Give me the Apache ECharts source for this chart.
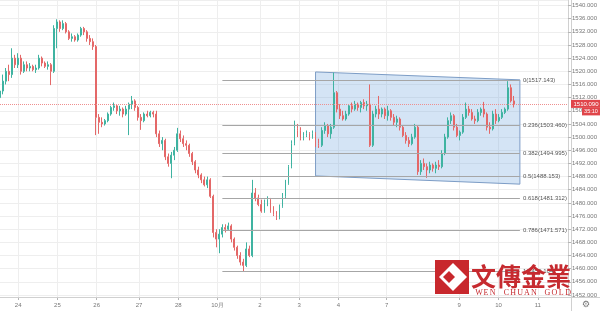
<!DOCTYPE html>
<html><head><meta charset="utf-8">
<script src="https://cdn.jsdelivr.net/npm/echarts@6/dist/echarts.min.js"></script>
<style>html,body{margin:0;padding:0;background:#fff}#c{width:600px;height:311px}</style>
</head><body><div id="c"></div>
<script>
// ---- data ----
const categoryCount = 190;
const dayIndex = [6,19,32,46,59,72,86,99,112,128,152,165,178];
const dayLabels = ['24','25','26','27','28','10月','2','3','4','7','9','10','11'];

const open = [1512,1514,1517,1520,1519,1524,1522,1524,1520,1522,1521,1521.5,1520.5,1521,1524,1522.5,1521.5,1522,1520,1533,
1535,1533,1534.5,1532,1530,1530.5,1529.5,1531,1533,1532,1530,1529,1527.5,1506,1504.5,1504,1505,1507,1509,1509.5,
1508,1508.5,1507,1508.5,1510,1511,1509,1506,1505,1507,1506.5,1507.5,1507,1501,1498,1499,1494,1492,1494.5,1496,
1501,1499.5,1498,1497.5,1495,1492.5,1490,1488.5,1487,1485.5,1487,1482,1471,1469,1470.5,1472.5,1472,1473,1469,1466.5,
1464,1462,1461,1466,1464,1483,1481.5,1479.5,1477.5,1480,1481,1477.5,1476.5,1475.5,1479,1482,1486,1491,1498,1502.5,
1502,1499.5,1500.5,1501,1500,1501,1498,1497.5,1502,1503.5,1501,1503,1513.5,1508.5,1506.5,1505.5,1507,1509.5,1508.5,1510,
1509,1510.5,1509.5,1510,1497.5,1507,1508.5,1507,1508.5,1506.5,1508,1506,1504.5,1505.5,1503,1500.5,1499,1498,1500,1503,
1489.5,1492,1491,1490,1491.5,1490.5,1491.5,1491,1495,1500,1505,1506.5,1503,1500.5,1501.5,1506,1508.5,1507.5,1505.5,1505,
1507.5,1508.5,1507,1503,1502.5,1507,1505,1506,1507.5,1508.5,1515,1511];
const close = [1514,1517,1520,1519,1524,1522,1524,1520,1522,1521,1521.5,1520.5,1521,1524,1522.5,1521.5,1522,1520,1533,1535,
1533,1534.5,1532,1530,1530.5,1529.5,1531,1533,1532,1530,1529,1527.5,1506,1504.5,1504,1505,1507,1509,1509.5,1508,
1508.5,1507,1508.5,1510,1511,1509,1506,1505,1507,1506.5,1507.5,1507,1501,1498,1499,1494,1492,1494.5,1496,1501,
1499.5,1498,1497.5,1495,1492.5,1490,1488.5,1487,1485.5,1487,1482,1471,1469,1470.5,1472.5,1472,1473,1469,1466.5,1464,
1462,1461,1466,1464,1483,1481.5,1479.5,1477.5,1480,1481,1477.5,1476.5,1475.5,1479,1482,1486,1491,1498,1502.5,1502,
1499.5,1500.5,1501,1500,1501,1498,1497.5,1502,1503.5,1501,1503,1513.5,1508.5,1506.5,1505.5,1507,1509.5,1508.5,1510,1509,
1510.5,1509.5,1510,1497.5,1507,1508.5,1507,1508.5,1506.5,1508,1506,1504.5,1505.5,1503,1500.5,1499,1498,1500,1503,1489.5,
1492,1491,1490,1491.5,1490.5,1491.5,1491,1495,1500,1505,1506.5,1503,1500.5,1501.5,1506,1508.5,1507.5,1505.5,1505,1507.5,
1508.5,1507,1503,1502.5,1507,1505,1506,1507.5,1508.5,1515,1511,1510.09];
const low = [1510,1513,1516,1517,1518,1521,1521,1519,1519.5,1520,1520,1520,1519.5,1520.5,1521.5,1521,1520.5,1515.8,1519.5,1527,
1532,1532.5,1531.5,1529.5,1529,1529,1529,1530.5,1531,1529,1528,1526.5,1500.6,1501,1503,1503.5,1504.5,1506.5,1508,1507,
1506.5,1506,1506.5,1500.6,1508.5,1508,1505,1502.2,1504.5,1506,1506,1506,1500,1497,1496,1493,1491,1487.5,1493,1495.5,
1498.5,1497,1496,1494,1491.5,1489,1487.5,1486,1485,1484.5,1481.5,1469.5,1466.5,1464.7,1469.5,1471,1471.5,1468,1465.5,1463,
1461,1459,1460.5,1463.5,1463.5,1480.5,1479,1477,1477,1479,1477,1476,1474.8,1475,1478.5,1481.5,1485.5,1490.5,1497.5,1500,
1499,1499,1500,1499,1499.5,1497,1496.7,1497,1501,1500,1499.5,1502.5,1507.5,1505.5,1505,1505,1506.5,1507.5,1508,1508,
1507.5,1508.5,1508,1497,1497,1506,1505.5,1506,1505.5,1505,1505,1503.5,1503,1502,1500,1498,1497,1497.5,1499.5,1488.5,
1488.5,1490,1487.6,1489,1489.5,1489,1490,1490.5,1494.5,1499.5,1504,1502,1500,1499,1501,1505.5,1506.5,1505,1504,1504.5,
1506.5,1506,1502,1501,1502,1504,1504.5,1505.5,1507,1508,1510.5,1509];
const high = [1516,1519,1521,1522,1527,1525,1525.5,1525,1523,1523,1522.5,1522,1522,1525,1524.5,1523,1523,1522.5,1534,1535.8,
1535.5,1535.5,1535,1532.5,1531.5,1531,1531.5,1533.5,1533.5,1532.5,1531,1530,1528,1507,1506,1505.5,1507.5,1509.5,1510.5,1510,
1509.5,1509,1509.5,1510.5,1512.5,1511.5,1509.5,1507,1507.5,1508,1508,1508,1508,1502,1500,1499.5,1495,1495.5,1497,1502.8,
1502,1500.5,1499,1498,1495.5,1493,1491,1489,1488,1488,1487.5,1482.5,1472,1472,1473.5,1473.5,1474,1473.5,1469.5,1467,
1465,1463,1468,1467,1487,1484.5,1482.5,1481,1481,1482,1481.5,1479,1477.5,1479.5,1483,1487,1491.5,1499,1505,1504,
1503,1501.5,1502,1501.5,1502,1501.5,1499.5,1503,1504.5,1504,1504,1519.6,1514,1510,1508,1508,1510,1510.5,1511,1510.5,
1511,1511.5,1511,1516,1508,1509.5,1512.5,1509,1509,1509.5,1508.5,1507,1506.5,1506,1503.5,1501.5,1500,1501,1504,1503.5,
1493,1493.5,1492,1492.5,1492,1492.5,1493,1496,1501,1506,1507.5,1507,1504,1502,1507,1510.5,1509.5,1508.5,1506.5,1508.5,
1509,1510.7,1507.5,1504.5,1508,1508.5,1507,1508.5,1509,1517,1516,1512.5];

const lastPrice = 1510.09;
const countdown = '35:10';
const fibRatios = ['0','0.236','0.382','0.5','0.618','0.786','1'];
const fibPrices = [1517.143,1503.460,1494.995,1488.153,1481.312,1471.571,1459.164];
const fibStartIdx = 74, fibEndIdx = 173;
const channelIdx = [105, 173];
const channelTop = [1519.8, 1517.4];
const channelBottom = [1488.2, 1485.7];
const yMin = 1452, yMax = 1541.67, yStep = 4;
const logoText = '文傳金業';
const logoSub = ['W','E','N','','C','H','U','A','N','','G','O','L','D'];

// ---- build ----
const cats = Array.from({length: categoryCount}, (_, i) => String(i));
const isDay = i => dayIndex.indexOf(i) >= 0;
const dayLabel = i => { const k = dayIndex.indexOf(i); return k >= 0 ? dayLabels[k] : ''; };
const candles = open.map((o, i) => [o, close[i], low[i], high[i]]);

const chart = echarts.init(document.getElementById('c'), null, {renderer: 'canvas'});
const fibLines = fibPrices.map((p, k) => [
  {coord: [fibStartIdx, p], lineStyle: {color: '#a6a6a6', width: 1, type: 'solid'},
   label: {show: true, position: 'end', distance: 3, formatter: fibRatios[k] + '(' + p.toFixed(3) + ')',
           fontSize: 6, color: '#555', padding: [7, 0, 0, 0], fontFamily: 'Liberation Sans'}},
  {coord: [fibEndIdx, p]}
]);

const option = {
  animation: false,
  backgroundColor: '#ffffff',
  textStyle: {fontFamily: 'Liberation Sans'},
  grid: [
    {left: 0, right: 29, top: 0, bottom: 14},
    {left: 0, right: 29, top: 0, bottom: 16}
  ],
  xAxis: [
    {gridIndex: 0, type: 'category', data: cats, boundaryGap: false,
     axisLine: {show: true, lineStyle: {color: '#d0d0d0'}},
     axisTick: {show: true, interval: i => isDay(i), length: 3, lineStyle: {color: '#b5b5b5'}},
     axisLabel: {interval: i => isDay(i), formatter: (v, i) => dayLabel(i), fontSize: 6, color: '#777', margin: 5},
     splitLine: {show: true, interval: i => isDay(i), lineStyle: {color: '#eeeeee'}}},
    {gridIndex: 1, type: 'category', data: cats, boundaryGap: false, show: false}
  ],
  yAxis: [
    {gridIndex: 0, type: 'value', show: false, splitLine: {show: false}},
    {gridIndex: 1, type: 'value', position: 'right', min: yMin, max: yMax, interval: yStep,
     axisLine: {show: true, lineStyle: {color: '#d0d0d0'}},
     axisTick: {show: true, length: 3, lineStyle: {color: '#b5b5b5'}},
     axisLabel: {fontSize: 6, color: '#777', margin: 4, formatter: v => v.toFixed(3), showMaxLabel: false},
     splitLine: {show: true, lineStyle: {color: '#eeeeee'}}}
  ],
  series: [
    {type: 'custom', xAxisIndex: 1, yAxisIndex: 1, z: 1, silent: true, data: [[0, yMin]],
     renderItem: (params, api) => ({
       type: 'polygon',
       shape: {points: [
         api.coord([channelIdx[0], channelTop[0]]),
         api.coord([channelIdx[1], channelTop[1]]),
         api.coord([channelIdx[1], channelBottom[1]]),
         api.coord([channelIdx[0], channelBottom[0]])
       ]},
       style: {fill: 'rgba(120,170,225,0.32)', stroke: '#7d9dc6', lineWidth: 1}
     })},
    {type: 'candlestick', xAxisIndex: 1, yAxisIndex: 1, z: 3, data: candles, barWidth: 1.4,
     itemStyle: {color: '#3fb3a1', color0: '#e46868', borderColor: '#3fb3a1', borderColor0: '#e46868', borderWidth: 1},
     markLine: {silent: true, symbol: ['none', 'none'], animation: false,
       data: [{yAxis: lastPrice, lineStyle: {color: '#ee8f8f', type: 'dotted', width: 1}, label: {show: false}}].concat(fibLines)}}
  ]
};
chart.setOption(option);

const py = chart.convertToPixel({yAxisIndex: 1}, lastPrice);
const logoChildren = [
  {type: 'rect', shape: {x: 435, y: 260, width: 34, height: 34}, style: {fill: '#c8282d'}},
  {type: 'polygon', shape: {points: [[453, 263], [467, 277], [453, 291], [439, 277]]}, style: {fill: '#ffffff'}},
  {type: 'polygon', shape: {points: [[449, 271], [455, 277], [449, 283], [443, 277]]}, style: {fill: '#c8282d'}},
  {type: 'text', style: {text: logoText, x: 471, y: 276, verticalAlign: 'middle', align: 'left',
    font: 'bold 25px "Noto Sans CJK TC"', fill: '#c62a2f'}}
];
logoSub.forEach((ch, k) => {
  if (ch) logoChildren.push({type: 'text', style: {text: ch, x: 479 + k * 6.85, y: 292.5, align: 'center',
    verticalAlign: 'middle', font: '8px "Liberation Serif"', fill: '#c62a2f'}});
});

chart.setOption({graphic: [
  {type: 'line', z: 50, shape: {x1: 571.5, y1: 0, x2: 571.5, y2: 311}, style: {stroke: '#d0d0d0', lineWidth: 1}},
  {type: 'line', z: 50, shape: {x1: 0, y1: 297.5, x2: 600, y2: 297.5}, style: {stroke: '#d0d0d0', lineWidth: 1}},
  {type: 'rect', z: 60, shape: {x: 571, y: py - 4, width: 29, height: 8}, style: {fill: '#e0454a'}},
  {type: 'text', z: 61, style: {text: lastPrice.toFixed(3), x: 586, y: py, align: 'center', verticalAlign: 'middle',
    font: '6px "Liberation Sans"', fill: '#ffffff'}},
  {type: 'rect', z: 60, shape: {x: 582, y: py + 4, width: 18, height: 7.5}, style: {fill: '#e0454a'}},
  {type: 'text', z: 61, style: {text: countdown, x: 591, y: py + 7.8, align: 'center', verticalAlign: 'middle',
    font: '5.5px "Liberation Sans"', fill: '#ffffff'}},
  {type: 'text', z: 61, style: {text: '⚙', x: 586, y: 304.5, align: 'center', verticalAlign: 'middle',
    font: '9px "DejaVu Sans"', fill: '#777'}},
  {type: 'group', z: 100, children: logoChildren.map(c => Object.assign({z: 100}, c))}
]});
</script></body></html>
